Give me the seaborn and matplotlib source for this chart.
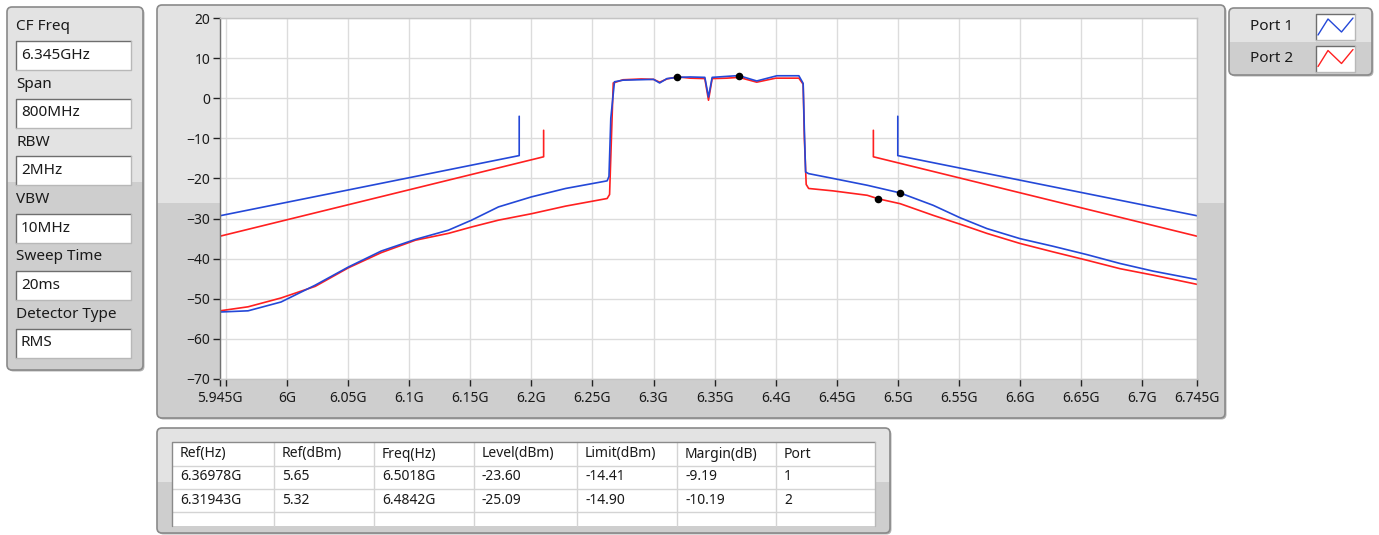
import matplotlib
matplotlib.use("Agg")
import matplotlib.pyplot as plt
from matplotlib.patches import FancyBboxPatch, Rectangle
import numpy as np
import pandas as pd
import seaborn as sns

# settings panel
setting_names = ['CF Freq', 'Span', 'RBW', 'VBW', 'Sweep Time', 'Detector Type']
setting_values = ['6.345GHz', '800MHz', '2MHz', '10MHz', '20ms', 'RMS']

# measured spectrum, port 1 (GHz, dBm)
port1_freq = [5.945, 5.968, 5.995, 6.023, 6.050, 6.077, 6.105, 6.132, 6.151, 6.173,
              6.200, 6.228, 6.262, 6.2635, 6.265, 6.268, 6.275, 6.30, 6.305, 6.311,
              6.3194, 6.33, 6.342, 6.345, 6.348, 6.36978, 6.3845, 6.401, 6.419, 6.4225,
              6.4235, 6.4245, 6.427, 6.447, 6.475, 6.5018, 6.529, 6.551, 6.573, 6.600,
              6.627, 6.655, 6.682, 6.709, 6.745]
port1_level = [-53.3, -53.0, -50.8, -46.6, -42.1, -38.1, -35.2, -32.9, -30.4, -27.1,
               -24.6, -22.5, -20.6, -19.5, -5.0, 4.1, 4.5, 4.7, 3.8, 4.9,
               5.2, 5.3, 5.2, 0.3, 5.2, 5.65, 4.3, 5.6, 5.6, 3.7,
               -8.0, -18.4, -18.8, -20.0, -21.7, -23.60, -26.7, -29.8, -32.5, -35.0,
               -36.9, -39.0, -41.2, -43.1, -45.2]

# measured spectrum, port 2
port2_freq = [5.945, 5.968, 5.995, 6.023, 6.050, 6.077, 6.105, 6.132, 6.151, 6.173,
              6.200, 6.228, 6.262, 6.264, 6.2655, 6.267, 6.275, 6.29, 6.30, 6.305,
              6.311, 6.31943, 6.33, 6.342, 6.345, 6.348, 6.36, 6.37, 6.3845, 6.40,
              6.419, 6.4225, 6.4235, 6.425, 6.427, 6.447, 6.475, 6.4842, 6.502, 6.529,
              6.551, 6.573, 6.600, 6.627, 6.655, 6.682, 6.709, 6.745]
port2_level = [-53.0, -52.0, -49.8, -46.9, -42.3, -38.5, -35.4, -33.7, -32.1, -30.4,
               -28.8, -26.9, -25.0, -24.0, -10.0, 3.8, 4.6, 4.8, 4.7, 4.0,
               4.8, 5.32, 5.0, 4.9, -0.5, 4.9, 5.0, 5.2, 4.0, 5.0,
               5.0, 3.5, -10.0, -21.5, -22.5, -23.1, -24.2, -25.09, -26.3, -29.2,
               -31.4, -33.7, -36.2, -38.3, -40.4, -42.5, -44.1, -46.4]

# spectrum mask limit lines
limit1_left_freq = [5.945, 6.19, 6.19]
limit1_left_level = [-29.3, -14.3, -4.5]
limit1_right_freq = [6.50, 6.50, 6.745]
limit1_right_level = [-4.5, -14.3, -29.3]
limit2_left_freq = [5.945, 6.21, 6.21]
limit2_left_level = [-34.4, -14.6, -8.0]
limit2_right_freq = [6.48, 6.48, 6.745]
limit2_right_level = [-8.0, -14.6, -34.4]

# marker points (ref peak / worst margin)
marker_freq = [6.36978, 6.31943, 6.5018, 6.4842]
marker_level = [5.65, 5.32, -23.60, -25.09]

# x axis ticks
xtick_vals = [5.945, 5.95, 6.0, 6.05, 6.1, 6.15, 6.2, 6.25, 6.3, 6.35, 6.4, 6.45,
              6.5, 6.55, 6.6, 6.65, 6.7, 6.745]
xtick_labels = ['5.945G', '', '6G', '6.05G', '6.1G', '6.15G', '6.2G', '6.25G', '6.3G',
                '6.35G', '6.4G', '6.45G', '6.5G', '6.55G', '6.6G', '6.65G', '6.7G', '6.745G']

# result table
table_header = ['Ref(Hz)', 'Ref(dBm)', 'Freq(Hz)', 'Level(dBm)', 'Limit(dBm)', 'Margin(dB)', 'Port']
table_rows = [['6.36978G', '5.65', '6.5018G', '-23.60', '-14.41', '-9.19', '1'],
              ['6.31943G', '5.32', '6.4842G', '-25.09', '-14.90', '-10.19', '2']]

legend_names = ['Port 1', 'Port 2']
BLUE = '#2448d8'
RED = '#ff2020'
LIGHT = '#e3e3e3'
DARK = '#cecece'

sns.set_theme(style='white')
plt.rcParams['font.family'] = ['Noto Sans', 'DejaVu Sans']
plt.rcParams['text.color'] = '#1a1a1a'

W, H = 1379, 535
fig = plt.figure(figsize=(W / 100, H / 100), dpi=100)
fig.patch.set_facecolor('white')

# background axes in pixel coordinates for the panel decoration
bg = fig.add_axes([0, 0, 1, 1])
bg.set_xlim(0, W)
bg.set_ylim(H, 0)
bg.axis('off')


def panel(x, y, w, h, split):
    style = 'round,pad=0,rounding_size=5'
    bg.add_patch(FancyBboxPatch((x + 1.5, y + 1.5), w, h, boxstyle=style, fc='#b4b4b4', ec='none'))
    body = FancyBboxPatch((x, y), w, h, boxstyle=style, fc=LIGHT, ec='none')
    bg.add_patch(body)
    low = Rectangle((x, split), w, y + h - split, fc=DARK, ec='none')
    bg.add_patch(low)
    low.set_clip_path(body)
    bg.add_patch(FancyBboxPatch((x, y), w, h, boxstyle=style, fc='none', ec='#8a8a8a', lw=1.2))


def white_box(x, y, w, h):
    bg.add_patch(Rectangle((x, y), w, h, fc='white', ec='none'))
    bg.plot([x, x, x + w], [y + h, y, y], color='#6e6e6e', lw=1.0)
    bg.plot([x, x + w, x + w], [y + h, y + h, y], color='#b8b8b8', lw=1.0)


# left settings panel
panel(7, 7, 136, 363, 182)
for i, (name, val) in enumerate(zip(setting_names, setting_values)):
    y0 = 27 + i * 57.5
    bg.text(16, y0, name, fontsize=11, va='center', ha='left')
    white_box(16, y0 + 14, 115, 29)
    bg.text(21, y0 + 28.5, val, fontsize=11, va='center', ha='left')

# main graph panel
panel(157, 5, 1068, 413, 203)

# legend panel
panel(1229, 8, 143, 67, 42)
for i, (name, col) in enumerate(zip(legend_names, [BLUE, RED])):
    yo = i * 31.5
    bg.text(1250, 27 + yo, name, fontsize=11, va='center', ha='left')
    white_box(1316, 14 + yo, 39, 26)
    bg.plot([1318, 1328, 1341.5, 1353], [35 + yo, 19 + yo, 32 + yo, 18 + yo], color=col, lw=1.0)

# result table panel
panel(157, 428, 733, 105, 482)
col_edges = [172, 274, 374, 474, 577, 677, 776, 875]
row_edges = [442, 466, 489, 512]
bg.add_patch(Rectangle((172, 442), 703, 84, fc='white', ec='none'))
for xe in col_edges[1:-1]:
    bg.plot([xe, xe], [442, 526], color='#d4d4d4', lw=1.0)
for ye in row_edges[1:]:
    bg.plot([172, 875], [ye, ye], color='#d4d4d4', lw=1.0)
bg.plot([172, 172, 875], [526, 442, 442], color='#8a8a8a', lw=1.0)
bg.plot([875, 875], [442, 526], color='#b8b8b8', lw=1.0)
for r, row in enumerate([table_header] + table_rows):
    for c, cell in enumerate(row):
        bg.text(col_edges[c] + 8, 454 + r * 23, cell, fontsize=10, va='center', ha='left')

# spectrum graph
ax = fig.add_axes([220 / W, 1 - 379 / H, 977 / W, 361 / H])
ax.set_facecolor('white')

lines = [(limit2_left_freq, limit2_left_level, RED),
         (limit2_right_freq, limit2_right_level, RED),
         (limit1_left_freq, limit1_left_level, BLUE),
         (limit1_right_freq, limit1_right_level, BLUE),
         (port2_freq, port2_level, RED),
         (port1_freq, port1_level, BLUE)]
for fx, ly, col in lines:
    df = pd.DataFrame({'freq': fx, 'level': ly})
    sns.lineplot(data=df, x='freq', y='level', sort=False, estimator=None,
                 color=col, lw=1.2, ax=ax)

sns.scatterplot(x=marker_freq, y=marker_level, color='black', s=30, linewidth=0,
                zorder=5, ax=ax)

ax.set_xlim(5.945, 6.745)
ax.set_ylim(-70, 20)
ax.set_xticks(xtick_vals)
ax.set_xticklabels(xtick_labels)
ax.set_yticks(np.arange(-70, 21, 10))
ax.set_xlabel('')
ax.set_ylabel('')
ax.grid(True, color='#dcdcdc', lw=1.0)
ax.tick_params(axis='both', which='major', direction='out', length=5, width=1.0,
               color='#222222', labelsize=10, labelcolor='#1a1a1a', pad=2,
               bottom=True, left=True)
ax.tick_params(axis='x', pad=4)
for side in ['top', 'right', 'bottom']:
    ax.spines[side].set_color('#c4c4c4')
ax.spines['left'].set_color('#707070')
for sp in ax.spines.values():
    sp.set_linewidth(1.0)

fig.savefig('out.png', dpi=100)
